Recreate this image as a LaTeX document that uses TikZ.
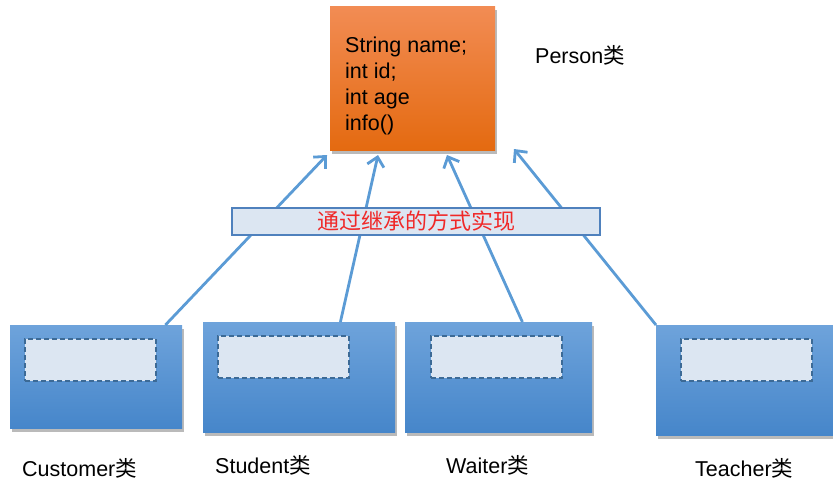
\documentclass[tikz,border=0pt]{standalone}
\usepackage{fontspec}
\setmainfont{Liberation Sans}
\newfontfamily\cjk{Noto Sans CJK SC}
\usetikzlibrary{arrows.meta,positioning,shadows}
\definecolor{orangetop}{RGB}{242,140,84}
\definecolor{orangebot}{RGB}{228,106,16}
\definecolor{bluetop}{RGB}{110,163,219}
\definecolor{bluebot}{RGB}{70,134,202}
\definecolor{paleblue}{RGB}{220,230,242}
\definecolor{linkblue}{RGB}{91,155,213}
\definecolor{slotedge}{RGB}{60,106,150}
\definecolor{bandedge}{RGB}{79,129,189}
\definecolor{bandred}{RGB}{240,40,40}

\begin{document}
\begin{tikzpicture}[x=1pt,y=-1pt,>={Straight Barb[length=9pt,width=17pt]},every node/.style={inner sep=0pt,font=\fontsize{21.5}{26}\selectfont},
  boxshadow/.style={drop shadow={shadow xshift=2pt,shadow yshift=-3.5pt,opacity=0.45,fill=black!60}},
  parent/.style={anchor=north west,minimum width=165pt,minimum height=144pt,top color=orangetop,bottom color=orangebot,boxshadow},
  child/.style={anchor=north west,minimum height=#1,top color=bluetop,bottom color=bluebot,boxshadow},
  slot/.style={draw=slotedge,dash pattern=on 5pt off 3pt,line width=1.8pt,fill=paleblue,minimum width=131pt,minimum height=42pt},
  link/.style={->,draw=linkblue,line width=2.8pt},
  band/.style={draw=bandedge,line width=1.4pt,fill=paleblue,minimum width=368pt,minimum height=27pt,text=bandred,font=\cjk\fontsize{22}{22}\selectfont}]
\useasboundingbox (0,0) rectangle (833,487);
% parent class
\node[parent] (person) at (330,6) {};
\node[anchor=north west,align=left] (fields) at (345,37) {String name;\\int id;\\int age\\info()};
\node[anchor=base west] (personlbl) at (535,64) {Person{\cjk 类}};
% sub classes
\node[child=103pt,minimum width=172pt] (customer) at (10,325) {};
\node[child=110pt,minimum width=192pt] (student) at (203,322) {};
\node[child=110pt,minimum width=187pt] (waiter) at (405,322) {};
\node[child=110pt,minimum width=190pt] (teacher) at (656,325) {};
\node[slot,below right=13pt and 14pt of customer.north west] (customerslot) {};
\node[slot,below right=13pt and 14pt of student.north west] (studentslot) {};
\node[slot,below right=13pt and 25pt of waiter.north west] (waiterslot) {};
\node[slot,below right=13pt and 24pt of teacher.north west] (teacherslot) {};
\node[anchor=base west] (customerlbl) at (22,476) {Customer{\cjk 类}};
\node[anchor=base west] (studentlbl) at (215,473) {Student{\cjk 类}};
\node[anchor=base west] (waiterlbl) at (446,473) {Waiter{\cjk 类}};
\node[anchor=base west] (teacherlbl) at (695,476) {Teacher{\cjk 类}};
% inheritance links
\coordinate (tipA) at (327,155); \coordinate (tipB) at (378,155);
\coordinate (tipC) at (447,155); \coordinate (tipD) at (514,149);
\draw[link] ([xshift=-17pt]customer.north east) -- (tipA);
\draw[link] ([xshift=-55pt]student.north east) -- (tipB);
\draw[link] ([xshift=-70pt]waiter.north east) -- (tipC);
\draw[link] (teacher.north west) -- (tipD);
\node[band] (inherit) at (416,221.5) {通过继承的方式实现};
\end{tikzpicture}
\end{document}
